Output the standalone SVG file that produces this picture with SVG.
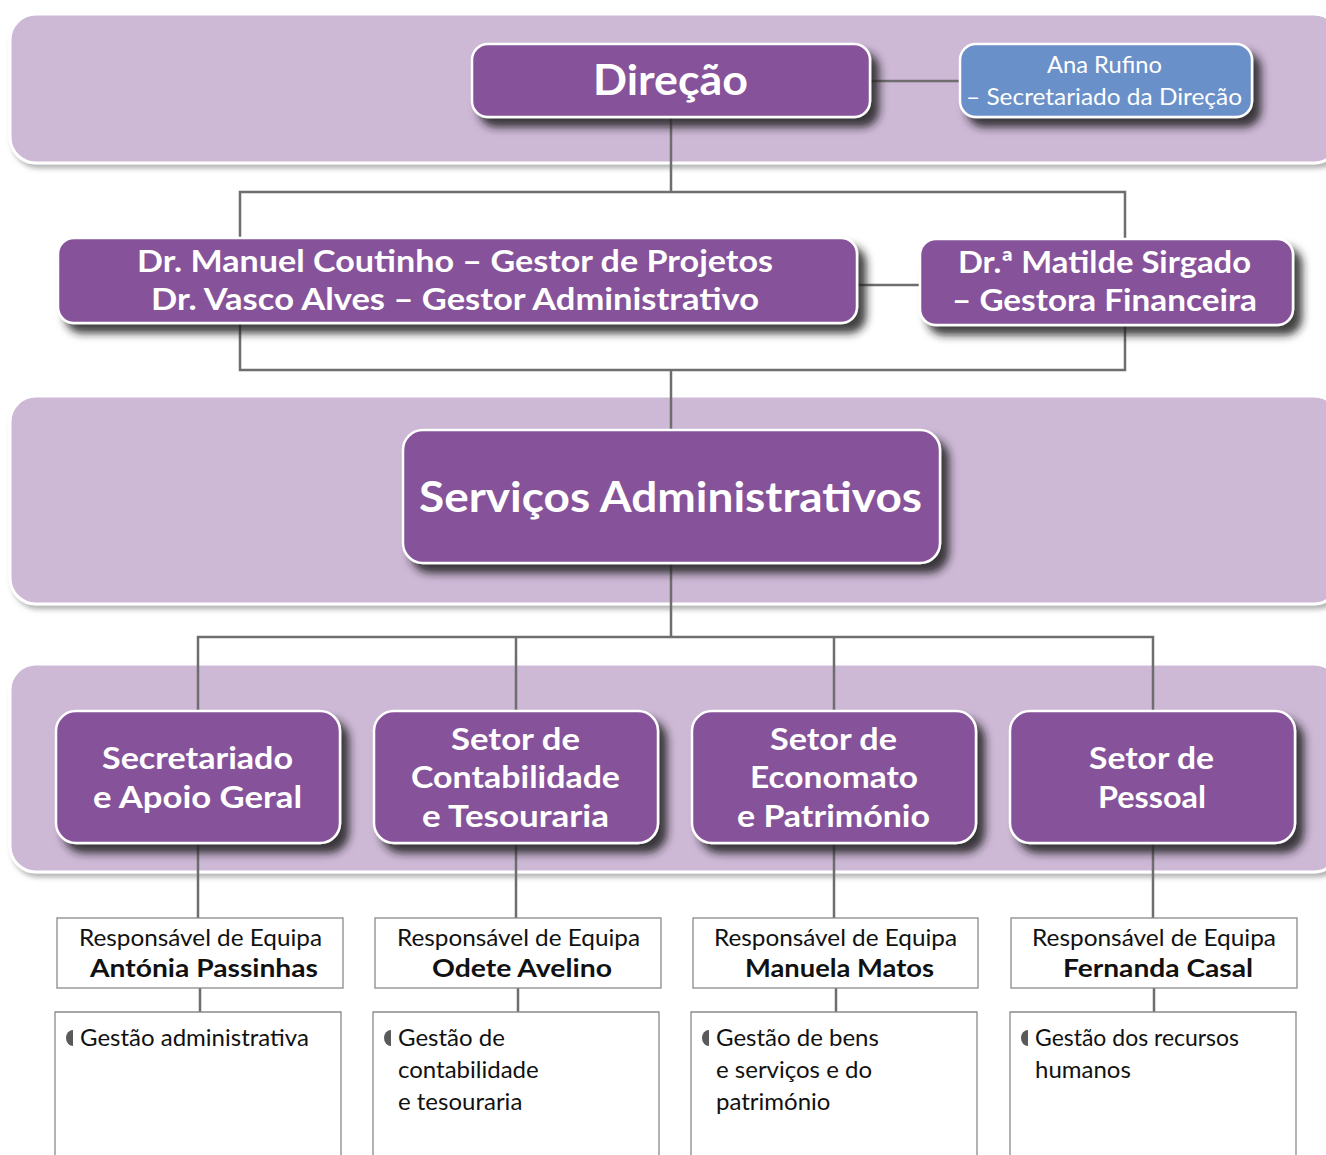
<svg xmlns="http://www.w3.org/2000/svg" width="1326" height="1155" viewBox="0 0 1326 1155">
<defs>
<filter id="sh" x="-10%" y="-20%" width="130%" height="160%">
<feDropShadow dx="8" dy="9" stdDeviation="4" flood-color="#1e1a22" flood-opacity="0.85"/>
</filter>
<filter id="bsh" x="-5%" y="-10%" width="110%" height="130%">
<feDropShadow dx="3" dy="4" stdDeviation="2.5" flood-color="#777" flood-opacity="0.55"/>
</filter>
<style>
.band{fill:#cdb8d6;stroke:#fff;stroke-width:3;filter:url(#bsh)}
.box{fill:#86529a;stroke:#fff;stroke-width:2.5;filter:url(#sh)}
.blue{fill:#6b90c9;stroke:#fff;stroke-width:2.5;filter:url(#sh)}
.t{font-family:Lato,"Liberation Sans",sans-serif;font-weight:bold;fill:#fff;text-anchor:middle}
.tl{font-family:Lato,"Liberation Sans",sans-serif;font-weight:normal;fill:#fff;text-anchor:middle}
.conn{fill:none;stroke:#6e6e6e;stroke-width:2.5}
.rb{fill:#fff;stroke:#8a8a8a;stroke-width:1.3}
.rt{font-family:Lato,"Liberation Sans",sans-serif;font-size:23px;fill:#111;text-anchor:middle}
.rn{font-family:Lato,"Liberation Sans",sans-serif;font-size:24px;font-weight:bold;fill:#111;text-anchor:middle}
.gt{font-family:Lato,"Liberation Sans",sans-serif;font-size:24px;fill:#111}
.bul{fill:#5a5a5a}
</style>
</defs>
<rect width="1326" height="1155" fill="#fff"/>
<g id="bands">
<rect class="band" x="10" y="14" width="1330" height="149" rx="26"/>
<rect class="band" x="10" y="396" width="1330" height="208" rx="26"/>
<rect class="band" x="10" y="664" width="1330" height="208" rx="26"/>
</g>
<g id="connectors">
<path class="conn" d="M870,81H960"/>
<path class="conn" d="M671,117V192M240,238V192H1125V238"/>
<path class="conn" d="M857,285H920"/>
<path class="conn" d="M240,323V370H1125V325M671,370V430"/>
<path class="conn" d="M671,563V637M198,711V637H1153V711M516,637V711M834,637V711"/>
<path class="conn" d="M198,843V918M516,843V918M834,843V918M1153,843V918"/>
<path class="conn" d="M200,988V1012M518,988V1012M836,988V1012M1154,988V1012"/>
</g>
<g id="direcao">
<rect class="box" x="472" y="44" width="398" height="73" rx="16"/>
<text class="t" x="670.5" y="95" font-size="42" textLength="155" lengthAdjust="spacingAndGlyphs">Direção</text>
</g>
<g id="ana-rufino">
<rect class="blue" x="960" y="44" width="292" height="73" rx="16"/>
<text class="tl" x="1104.5" y="73" font-size="24" textLength="115" lengthAdjust="spacingAndGlyphs">Ana Rufino</text>
<text class="tl" x="1104" y="105" font-size="24" textLength="276" lengthAdjust="spacingAndGlyphs">– Secretariado da Direção</text>
</g>
<g id="gestores">
<rect class="box" x="58" y="238" width="799" height="85" rx="16"/>
<text class="t" x="455" y="272" font-size="30" textLength="636" lengthAdjust="spacingAndGlyphs">Dr. Manuel Coutinho – Gestor de Projetos</text>
<text class="t" x="455" y="310" font-size="30" textLength="608" lengthAdjust="spacingAndGlyphs">Dr. Vasco Alves – Gestor Administrativo</text>
</g>
<g id="matilde">
<rect class="box" x="920" y="239" width="373" height="86" rx="16"/>
<text class="t" x="1104.5" y="273" font-size="30" textLength="293" lengthAdjust="spacingAndGlyphs">Dr.ª Matilde Sirgado</text>
<text class="t" x="1104.5" y="311" font-size="30" textLength="305" lengthAdjust="spacingAndGlyphs">– Gestora Financeira</text>
</g>
<g id="servicos">
<rect class="box" x="403" y="430" width="537" height="133" rx="20"/>
<text class="t" x="670.5" y="512" font-size="42" textLength="503" lengthAdjust="spacingAndGlyphs">Serviços Administrativos</text>
</g>
<g id="secretariado">
<rect class="box" x="56" y="711" width="284" height="132" rx="20"/>
<text class="t" x="197.5" y="769" font-size="30" textLength="191" lengthAdjust="spacingAndGlyphs">Secretariado</text>
<text class="t" x="197.5" y="808" font-size="30" textLength="209" lengthAdjust="spacingAndGlyphs">e Apoio Geral</text>
</g>
<g id="contabilidade">
<rect class="box" x="374" y="711" width="284" height="132" rx="20"/>
<text class="t" x="515.5" y="750" font-size="30" textLength="129" lengthAdjust="spacingAndGlyphs">Setor de</text>
<text class="t" x="515.5" y="788" font-size="30" textLength="209" lengthAdjust="spacingAndGlyphs">Contabilidade</text>
<text class="t" x="515.5" y="827" font-size="30" textLength="187" lengthAdjust="spacingAndGlyphs">e Tesouraria</text>
</g>
<g id="economato">
<rect class="box" x="692" y="711" width="284" height="132" rx="20"/>
<text class="t" x="833.5" y="750" font-size="30" textLength="127" lengthAdjust="spacingAndGlyphs">Setor de</text>
<text class="t" x="834" y="788" font-size="30" textLength="168" lengthAdjust="spacingAndGlyphs">Economato</text>
<text class="t" x="833.5" y="827" font-size="30" textLength="193" lengthAdjust="spacingAndGlyphs">e Património</text>
</g>
<g id="pessoal">
<rect class="box" x="1010" y="711" width="285" height="132" rx="20"/>
<text class="t" x="1151.5" y="769" font-size="30" textLength="125" lengthAdjust="spacingAndGlyphs">Setor de</text>
<text class="t" x="1152" y="808" font-size="30" textLength="108" lengthAdjust="spacingAndGlyphs">Pessoal</text>
</g>
<g id="resp-antonia">
<rect class="rb" x="57" y="918" width="286" height="70"/>
<text class="rt" x="200.5" y="946" textLength="243" lengthAdjust="spacingAndGlyphs">Responsável de Equipa</text>
<text class="rn" x="204" y="977" textLength="228" lengthAdjust="spacingAndGlyphs">Antónia Passinhas</text>
</g>
<g id="resp-odete">
<rect class="rb" x="375" y="918" width="286" height="70"/>
<text class="rt" x="518.5" y="946" textLength="243" lengthAdjust="spacingAndGlyphs">Responsável de Equipa</text>
<text class="rn" x="522" y="977" textLength="180" lengthAdjust="spacingAndGlyphs">Odete Avelino</text>
</g>
<g id="resp-manuela">
<rect class="rb" x="693" y="918" width="285" height="70"/>
<text class="rt" x="835.5" y="946" textLength="243" lengthAdjust="spacingAndGlyphs">Responsável de Equipa</text>
<text class="rn" x="839.5" y="977" textLength="189" lengthAdjust="spacingAndGlyphs">Manuela Matos</text>
</g>
<g id="resp-fernanda">
<rect class="rb" x="1011" y="918" width="286" height="70"/>
<text class="rt" x="1154" y="946" textLength="244" lengthAdjust="spacingAndGlyphs">Responsável de Equipa</text>
<text class="rn" x="1158" y="977" textLength="190" lengthAdjust="spacingAndGlyphs">Fernanda Casal</text>
</g>
<g id="tarefa-1">
<path class="rb" d="M55,1160V1012H341V1160"/>
<path class="bul" d="M73,1030a7,8 0 0 0 0,16z"/>
<text class="gt" x="80" y="1046">Gestão administrativa</text>
</g>
<g id="tarefa-2">
<path class="rb" d="M373,1160V1012H659V1160"/>
<path class="bul" d="M391,1030a7,8 0 0 0 0,16z"/>
<text class="gt" x="398" y="1046">Gestão de</text>
<text class="gt" x="398" y="1078">contabilidade</text>
<text class="gt" x="398" y="1110">e tesouraria</text>
</g>
<g id="tarefa-3">
<path class="rb" d="M691,1160V1012H977V1160"/>
<path class="bul" d="M709,1030a7,8 0 0 0 0,16z"/>
<text class="gt" x="716" y="1046">Gestão de bens</text>
<text class="gt" x="716" y="1078">e serviços e do</text>
<text class="gt" x="716" y="1110">património</text>
</g>
<g id="tarefa-4">
<path class="rb" d="M1010,1160V1012H1296V1160"/>
<path class="bul" d="M1028,1030a7,8 0 0 0 0,16z"/>
<text class="gt" x="1035" y="1046" textLength="204" lengthAdjust="spacingAndGlyphs">Gestão dos recursos</text>
<text class="gt" x="1035" y="1078">humanos</text>
</g>
</svg>
